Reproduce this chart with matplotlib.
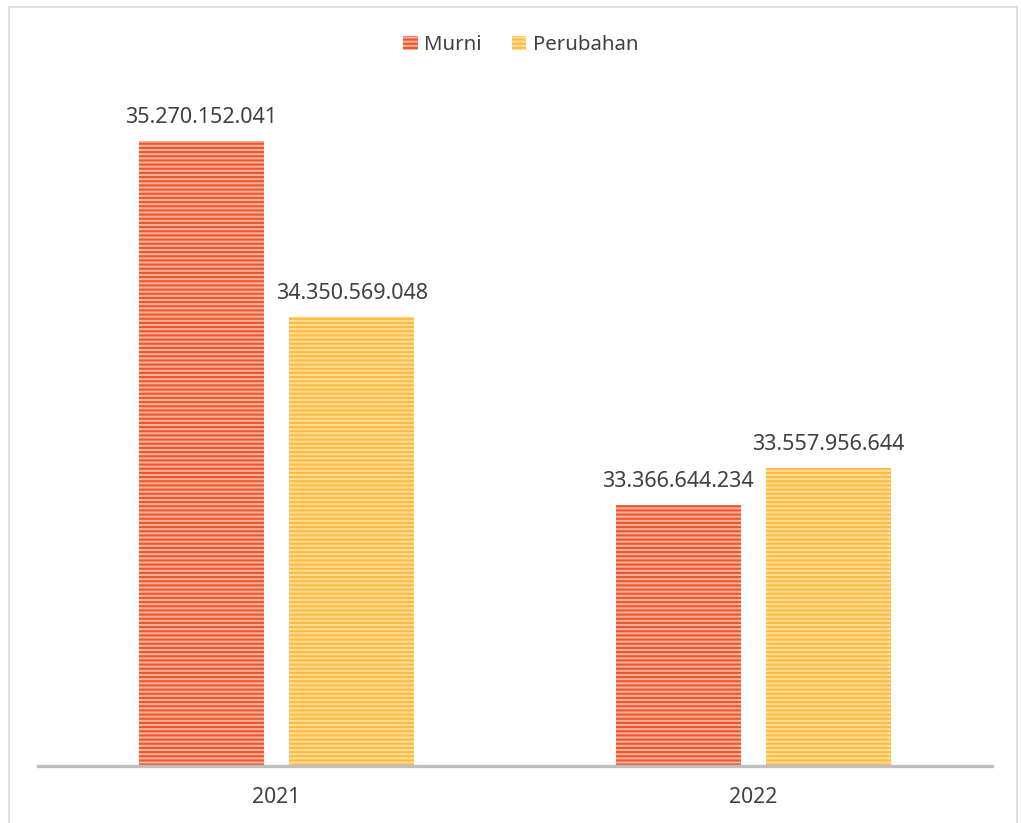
import matplotlib
matplotlib.use("Agg")
import matplotlib.pyplot as plt
from matplotlib.patches import Rectangle, Patch
import numpy as np

# data
YEARS = ["2021", "2022"]
MURNI = [35270152041, 33366644234]
PERUBAHAN = [34350569048, 33557956644]
SERIES_NAMES = ["Murni", "Perubahan"]

# styling
STYLE = {
    "Murni": {"face": "#F8B09A", "hatch": "#EE552B"},
    "Perubahan": {"face": "#FFDC95", "hatch": "#FFBB40"},
}
TEXT = "#404040"

plt.rcParams["font.family"] = ["Noto Sans", "DejaVu Sans"]
plt.rcParams["hatch.linewidth"] = 1.5


def fmt(v):
    return f"{v:,}".replace(",", ".")


def main():
    fig = plt.figure(figsize=(10.21, 8.23), dpi=100)
    # outer chart border
    fig.patches.append(Rectangle((9 / 1021, -0.02), 1008 / 1021, 0.02 + 816 / 823,
                                 transform=fig.transFigure, fill=False,
                                 edgecolor="#D9D9D9", lw=1.2))

    ax = fig.add_axes([38 / 1021, 57 / 823, 954 / 1021, 696 / 823])
    x = np.arange(len(YEARS)) + 0.5
    w = 0.262
    off = 0.1575
    for vals, name, sign in [(MURNI, "Murni", -1), (PERUBAHAN, "Perubahan", 1)]:
        st = STYLE[name]
        bars = ax.bar(x + sign * off, vals, width=w, color=st["face"],
                      edgecolor=st["hatch"], hatch="----", lw=0, zorder=2)
        for b, v in zip(bars, vals):
            ax.annotate(fmt(v), (b.get_x() + b.get_width() / 2, v),
                        xytext=(0, 13), textcoords="offset points",
                        ha="center", va="baseline", fontsize=15.5, color=TEXT)

    ax.set_xlim(0, 2)
    ax.set_ylim(32e9, 32e9 + 696 / 191 * 1e9)
    ax.set_xticks(x)
    ax.set_xticklabels(YEARS, fontsize=15.2, color=TEXT)
    ax.tick_params(axis="x", length=0, pad=15)
    ax.set_yticks([])
    for s in ["top", "right", "left"]:
        ax.spines[s].set_visible(False)
    ax.spines["bottom"].set_color("#BFBFBF")
    ax.spines["bottom"].set_linewidth(2.4)
    ax.spines["bottom"].set_zorder(3)

    handles = [Patch(facecolor=STYLE[n]["face"], edgecolor=STYLE[n]["hatch"],
                     hatch="----", lw=0) for n in SERIES_NAMES]
    leg = fig.legend(handles, SERIES_NAMES, loc="center", bbox_to_anchor=(0.51, 1 - 45 / 823),
                     ncol=2, frameon=False, fontsize=14.7, handlelength=0.7,
                     handleheight=0.7, handletextpad=0.3, columnspacing=1.5)
    for t in leg.get_texts():
        t.set_color(TEXT)

    fig.savefig("out.png", dpi=100)


if __name__ == "__main__":
    main()
